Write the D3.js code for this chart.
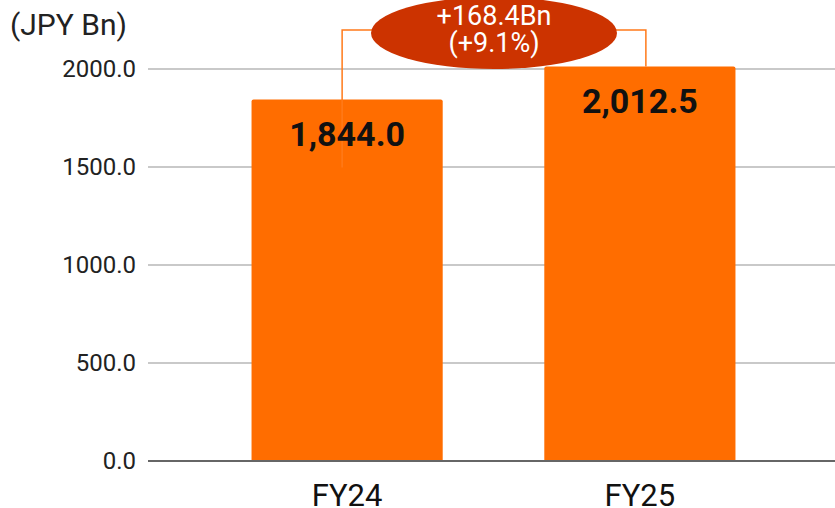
<!DOCTYPE html>
<html>
<head>
<meta charset="utf-8">
<script src="https://cdn.jsdelivr.net/npm/d3@7"></script>
<style>
  body { margin: 0; background: #fff; }
  svg { display: block; font-family: Roboto, sans-serif; }
</style>
</head>
<body>
<div id="chart"></div>
<script>
// chart data
const categories = ['FY24', 'FY25'];
const values = [1844.0, 2012.5];
const valueLabels = ['1,844.0', '2,012.5'];
const yTicks = [0, 500, 1000, 1500, 2000];
const diffLabel = ['+168.4Bn', '(+9.1%)'];

const width = 835;
const height = 508;
const margin = { top: 69, right: 0, bottom: 47, left: 148 };

const svg = d3.select('#chart').append('svg')
    .attr('width', width)
    .attr('height', height);

const y = d3.scaleLinear()
    .domain([0, 2000])
    .range([height - margin.bottom, margin.top]);

const x = d3.scaleBand()
    .domain(categories)
    .range([152, width - margin.right])
    .paddingInner(0.347)
    .paddingOuter(0.34);

// gridlines
svg.append('g')
    .selectAll('line')
    .data(yTicks.filter(d => d > 0))
    .enter().append('line')
    .attr('x1', margin.left)
    .attr('x2', width)
    .attr('y1', d => y(d))
    .attr('y2', d => y(d))
    .attr('stroke', '#b7b7b7')
    .attr('stroke-width', 1.3);

// y tick labels
svg.append('g')
    .selectAll('text')
    .data(yTicks)
    .enter().append('text')
    .attr('x', 136)
    .attr('y', d => y(d) + 8)
    .attr('text-anchor', 'end')
    .style('font-size', '24px')
    .attr('fill', '#222')
    .text(d => d.toFixed(1));

// unit label
svg.append('text')
    .attr('x', 10)
    .attr('y', 35)
    .style('font-size', '30px')
    .attr('fill', '#222')
    .text('(JPY Bn)');

// bars (slightly rounded top)
const bw = x.bandwidth();
const r = 2;
svg.append('g')
    .selectAll('path')
    .data(values)
    .enter().append('path')
    .attr('fill', '#ff6d00')
    .attr('d', (d, i) => {
        const x0 = x(categories[i]);
        const y0 = y(d);
        const yb = y(0);
        return `M${x0},${yb}V${y0 + r}Q${x0},${y0} ${x0 + r},${y0}H${x0 + bw - r}Q${x0 + bw},${y0} ${x0 + bw},${y0 + r}V${yb}Z`;
    });

// baseline
svg.append('line')
    .attr('x1', margin.left)
    .attr('x2', width)
    .attr('y1', y(0))
    .attr('y2', y(0))
    .attr('stroke', '#666')
    .attr('stroke-width', 2);

// x labels
svg.append('g')
    .selectAll('text')
    .data(categories)
    .enter().append('text')
    .attr('x', d => x(d) + bw / 2)
    .attr('y', 506)
    .attr('text-anchor', 'middle')
    .style('font-size', '31px')
    .attr('fill', '#111')
    .text(d => d);

// bracket connecting the two bars
const cx1 = x(categories[0]) + bw / 2 - 5;
const cx2 = x(categories[1]) + bw / 2 + 6;
const by = 30;
svg.append('path')
    .attr('fill', 'none')
    .attr('stroke', '#ff7a1a')
    .attr('stroke-width', 1.5)
    .attr('d', `M${cx1},${y(values[0]) + 68}V${by}H${cx2}V${y(values[1])}`);

// value labels
svg.append('g')
    .selectAll('text')
    .data(values)
    .enter().append('text')
    .attr('x', (d, i) => x(categories[i]) + bw / 2)
    .attr('y', d => y(d) + 46)
    .attr('text-anchor', 'middle')
    .style('font-size', '34px')
    .style('font-weight', 'bold')
    .attr('fill', '#111')
    .text((d, i) => valueLabels[i]);

// difference bubble
const ecx = (cx1 + cx2) / 2;
svg.append('ellipse')
    .attr('cx', ecx)
    .attr('cy', 33)
    .attr('rx', 123)
    .attr('ry', 36)
    .attr('fill', '#cc3300');

svg.append('g')
    .selectAll('text')
    .data(diffLabel)
    .enter().append('text')
    .attr('x', ecx)
    .attr('y', (d, i) => 25 + i * 27)
    .attr('text-anchor', 'middle')
    .style('font-size', '27px')
    .attr('fill', '#fff')
    .text(d => d);
</script>
</body>
</html>
